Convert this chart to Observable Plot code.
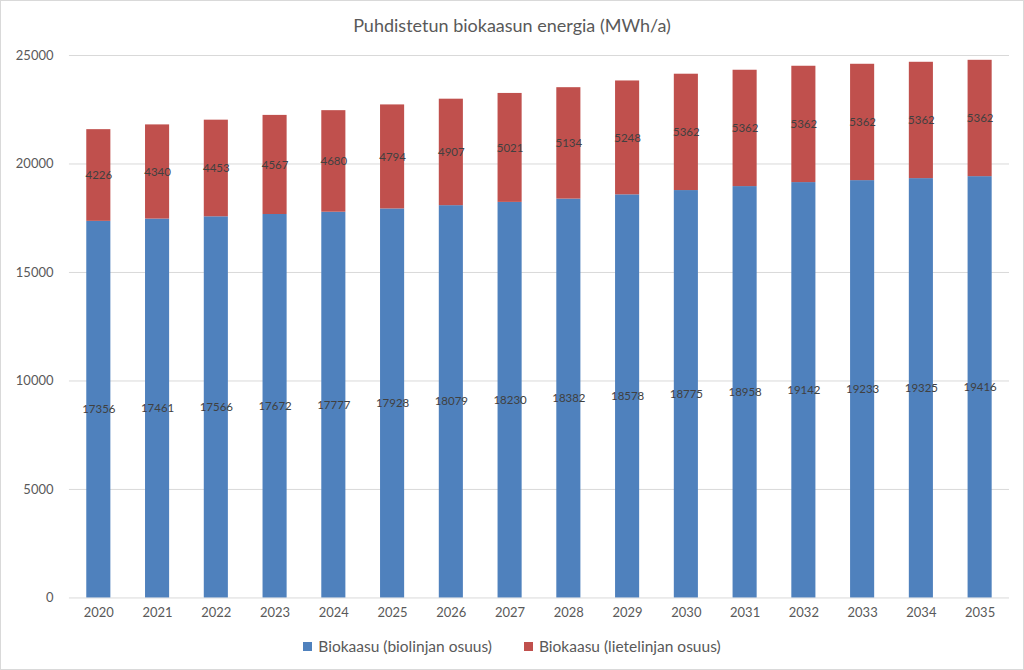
<!DOCTYPE html>
<html>
<head>
<meta charset="utf-8">
<script src="https://cdn.jsdelivr.net/npm/d3@7"></script>
<script src="https://cdn.jsdelivr.net/npm/@observablehq/plot@0.6"></script>
<style>
  html, body { margin: 0; padding: 0; background: #fff; }
  #chart { position: relative; width: 1024px; height: 670px; box-sizing: border-box; border: 1px solid #d9d9d9; font-family: Lato, "Open Sans", sans-serif; color: #595959; overflow: hidden; }
  #title { position: absolute; top: 13px; left: 0; width: 100%; text-align: center; font-size: 18px; }
  #plot { position: absolute; top: 40px; left: -1px; }
  #legend { position: absolute; top: 636px; left: 0; width: 100%; display: flex; justify-content: center; gap: 32px; font-size: 15.5px; }
  #legend span.sw { display: inline-block; width: 9px; height: 9px; margin-right: 6px; vertical-align: 1px; }
</style>
</head>
<body>
<div id="chart">
  <div id="title">Puhdistetun biokaasun energia (MWh/a)</div>
  <div id="plot"></div>
  <div id="legend"></div>
</div>
<script>
const years = ["2020","2021","2022","2023","2024","2025","2026","2027","2028","2029","2030","2031","2032","2033","2034","2035"];
const bio = [17356,17461,17566,17672,17777,17928,18079,18230,18382,18578,18775,18958,19142,19233,19325,19416];
const liete = [4226,4340,4453,4567,4680,4794,4907,5021,5134,5248,5362,5362,5362,5362,5362,5362];
const seriesNames = ["Biokaasu (biolinjan osuus)", "Biokaasu (lietelinjan osuus)"];
const colors = ["#4f81bd", "#c0504d"];
const yTicks = [0, 5000, 10000, 15000, 20000, 25000];

const data = years.flatMap((yr, i) => [
  {year: yr, series: seriesNames[0], value: bio[i], y1: 0, y2: bio[i]},
  {year: yr, series: seriesNames[1], value: liete[i], y1: bio[i], y2: bio[i] + liete[i]}
]);
data.forEach(d => d.mid = (d.y1 + d.y2) / 2);

const chart = Plot.plot({
  width: 1024,
  height: 580,
  marginLeft: 69,
  marginRight: 14,
  marginTop: 14,
  marginBottom: 23,
  style: {fontFamily: "Lato, 'Open Sans', sans-serif", fontSize: "13px", color: "#595959", background: "transparent"},
  x: {domain: years, paddingInner: 0.59, paddingOuter: 0.295, round: false, label: null, tickSize: 0, tickPadding: 10},
  y: {domain: [0, 25000], ticks: yTicks, label: null, tickSize: 0, tickPadding: 16, tickFormat: d => String(d)},
  color: {domain: seriesNames, range: colors},
  marks: [
    Plot.ruleY(yTicks, {stroke: "#d9d9d9", strokeWidth: 1}),
    Plot.rectY(data, {x: "year", y1: "y1", y2: "y2", fill: "series"}),
    Plot.text(data, {x: "year", y: "mid", text: d => String(d.value), fill: "#404040", fontSize: 11.5})
  ]
});
document.getElementById("plot").appendChild(chart);

const legend = document.getElementById("legend");
seriesNames.forEach((name, i) => {
  const item = document.createElement("div");
  const sw = document.createElement("span");
  sw.className = "sw";
  sw.style.background = colors[i];
  item.appendChild(sw);
  item.appendChild(document.createTextNode(name));
  legend.appendChild(item);
});
</script>
</body>
</html>
